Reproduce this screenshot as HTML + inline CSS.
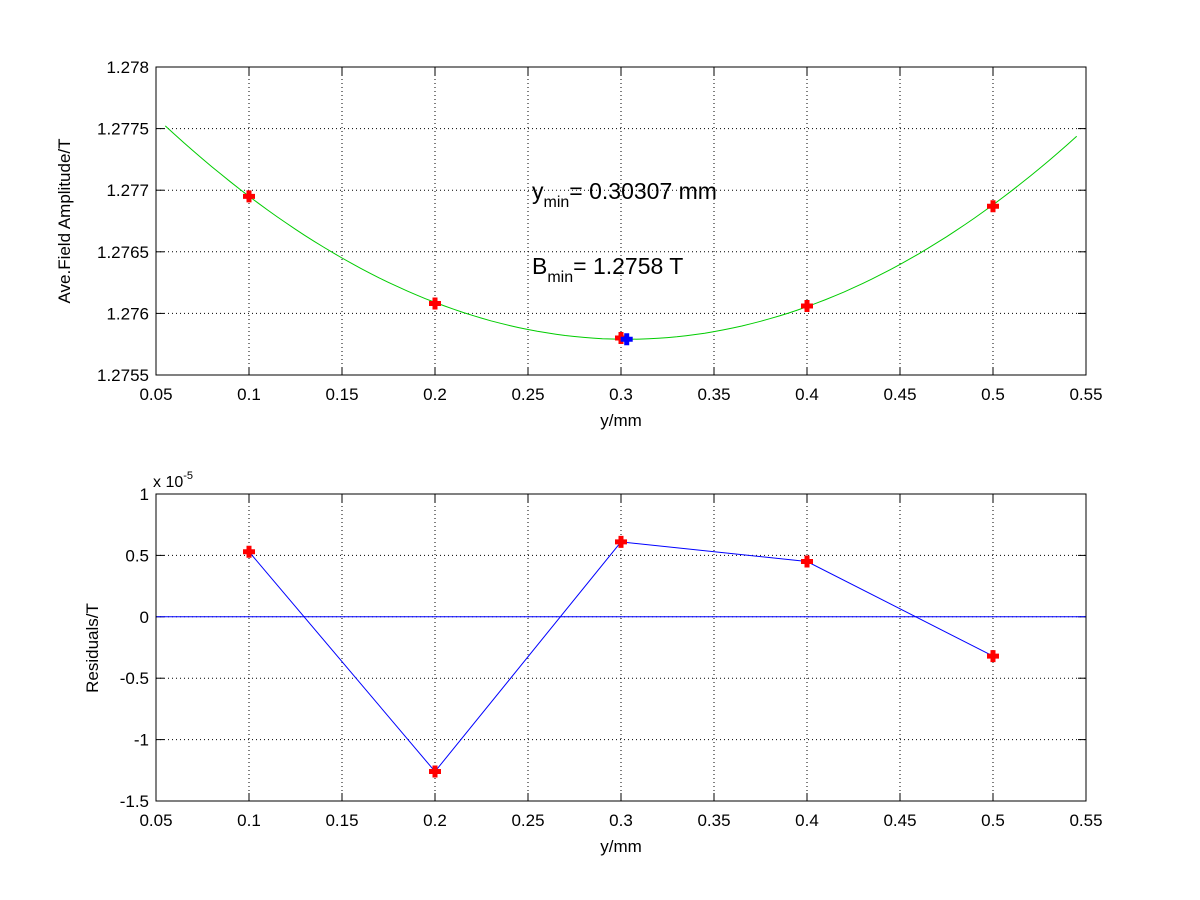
<!DOCTYPE html>
<html><head><meta charset="utf-8"><style>
html,body{margin:0;padding:0;background:#fff;}
svg{display:block;font-family:"Liberation Sans",sans-serif;}
</style></head><body>
<svg id="s" width="1200" height="900" xmlns="http://www.w3.org/2000/svg"></svg>
<script>
const s=document.getElementById('s');let h='';
const L=156,R=1086,W=930;
const X=v=>L+(v-0.05)/0.5*W;
const T1=67,B1=375,T2=494,B2=801;
const Y1=v=>T1+(1.278-v)/0.0005*61.6;
const Y2=v=>T2+(1-v)/0.5*61.4;
function axes(top,bot,yt,yl,Yf){
 h+=`<rect x="${L}" y="${top}" width="${W}" height="${bot-top}" fill="#fff" stroke="none"/>`;
 for(let i=1;i<10;i++){const x=L+i*93;h+=`<line x1="${x}" y1="${top}" x2="${x}" y2="${bot}" stroke="#000" stroke-width="1" stroke-dasharray="1,3"/>`;}
 yt.forEach((v,i)=>{const y=Yf(v);if(i>0&&i<yt.length-1)h+=`<line x1="${L}" y1="${y}" x2="${R}" y2="${y}" stroke="#000" stroke-dasharray="1,3"/>`;
  h+=`<line x1="${L}" y1="${y}" x2="${L+8}" y2="${y}" stroke="#000"/><line x1="${R}" y1="${y}" x2="${R-8}" y2="${y}" stroke="#000"/>`;
  h+=`<text x="${L-7}" y="${y+6}" font-size="17" text-anchor="end">${yl[i]}</text>`;});
 const xl=['0.05','0.1','0.15','0.2','0.25','0.3','0.35','0.4','0.45','0.5','0.55'];
 xl.forEach((t,i)=>{const x=L+i*93;h+=`<line x1="${x}" y1="${bot}" x2="${x}" y2="${bot-8}" stroke="#000"/><line x1="${x}" y1="${top}" x2="${x}" y2="${top+8}" stroke="#000"/>`;
  h+=`<text x="${x}" y="${bot+25}" font-size="17" text-anchor="middle">${t}</text>`;});
 h+=`<text x="${L+W/2}" y="${bot+51}" font-size="17" text-anchor="middle">y/mm</text>`;
}
function plus(x,y,c){h+=`<path d="M${x-6} ${y}H${x+6}M${x} ${y-6}V${y+6}" stroke="${c}" stroke-width="5"/>`;}
const yt1=[1.278,1.2775,1.277,1.2765,1.276,1.2755];
axes(T1,B1,yt1,['1.278','1.2775','1.277','1.2765','1.276','1.2755'],Y1);
axes(T2,B2,[1,0.5,0,-0.5,-1,-1.5],['1','0.5','0','-0.5','-1','-1.5'],Y2);
let p=[];for(let v=0.055;v<=0.5451;v+=0.005){p.push(X(v).toFixed(1)+','+Y1(1.27579+0.02815*(v-0.30307)**2).toFixed(1));}
h+=`<polyline points="${p.join(' ')}" fill="none" stroke="#00cc00" stroke-width="1"/>`;
[[0.1,1.27695],[0.2,1.27608],[0.3,1.2758],[0.4,1.27606],[0.5,1.27687]].forEach(d=>plus(X(d[0]),Y1(d[1]),'#f00'));
plus(X(0.30307),Y1(1.27579),'#00f');
h+=`<text x="532" y="199" font-size="23">y<tspan font-size="16" dy="8">min</tspan><tspan dy="-8">= 0.30307 mm</tspan></text>`;
h+=`<text x="532" y="274" font-size="23">B<tspan font-size="16" dy="8">min</tspan><tspan dy="-8">= 1.2758 T</tspan></text>`;
h+=`<line x1="${L}" y1="${Y2(0)}" x2="${R}" y2="${Y2(0)}" stroke="#00f"/>`;
const r=[[0.1,0.53],[0.2,-1.26],[0.3,0.61],[0.4,0.45],[0.5,-0.32]];
h+=`<polyline points="${r.map(d=>X(d[0])+','+Y2(d[1])).join(' ')}" fill="none" stroke="#00f"/>`;
r.forEach(d=>plus(X(d[0]),Y2(d[1]),'#f00'));
h+=`<rect x="${L}" y="${T1}" width="${W}" height="${B1-T1}" fill="none" stroke="#000"/>`;
h+=`<rect x="${L}" y="${T2}" width="${W}" height="${B2-T2}" fill="none" stroke="#000"/>`;
h+=`<text x="153" y="487" font-size="16">x 10<tspan font-size="11" dy="-8">-5</tspan></text>`;
h+=`<text transform="translate(70,221) rotate(-90)" font-size="17" text-anchor="middle">Ave.Field Amplitude/T</text>`;
h+=`<text transform="translate(98,648) rotate(-90)" font-size="17" text-anchor="middle">Residuals/T</text>`;
s.innerHTML=h;
</script>
</body></html>
